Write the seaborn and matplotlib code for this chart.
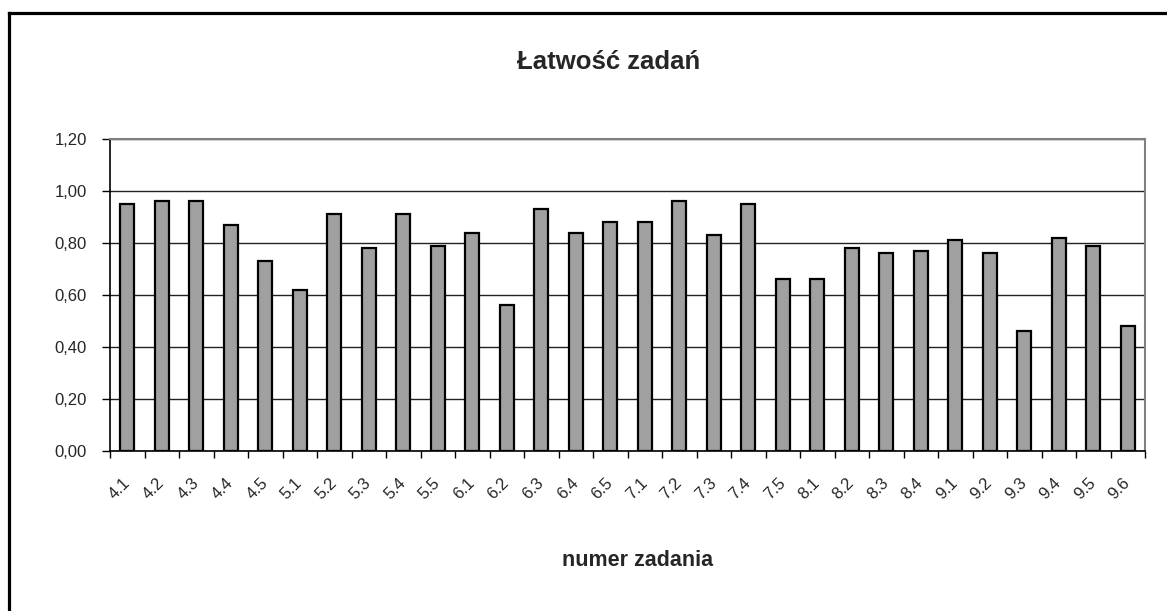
import matplotlib
matplotlib.use("Agg")
import matplotlib.pyplot as plt
import seaborn as sns
import pandas as pd
import numpy as np
from matplotlib.lines import Line2D
from matplotlib.ticker import FuncFormatter, FixedLocator

categories = ["4.1", "4.2", "4.3", "4.4", "4.5", "5.1", "5.2", "5.3", "5.4", "5.5",
              "6.1", "6.2", "6.3", "6.4", "6.5", "7.1", "7.2", "7.3", "7.4", "7.5",
              "8.1", "8.2", "8.3", "8.4", "9.1", "9.2", "9.3", "9.4", "9.5", "9.6"]
values = [0.95, 0.96, 0.96, 0.87, 0.73, 0.62, 0.91, 0.78, 0.91, 0.79,
          0.84, 0.56, 0.93, 0.84, 0.88, 0.88, 0.96, 0.83, 0.95, 0.66,
          0.66, 0.78, 0.76, 0.77, 0.81, 0.76, 0.46, 0.82, 0.79, 0.48]
y_ticks = [0.0, 0.2, 0.4, 0.6, 0.8, 1.0, 1.2]
title = "Łatwość zadań"
xlabel = "numer zadania"

sns.set_theme(style="white")
plt.rcParams['font.family'] = ['Liberation Sans', 'DejaVu Sans']

W, H = 1167, 611
fig = plt.figure(figsize=(W / 100, H / 100), dpi=100)
ax = fig.add_axes([110 / W, 1 - 451 / H, (1145 - 110) / W, (451 - 139) / H])

df = pd.DataFrame({"zadanie": categories, "latwosc": values})
sns.barplot(data=df, x="zadanie", y="latwosc", ax=ax, color="#a0a0a0",
            width=0.4, edgecolor="black", linewidth=1.6, saturation=1)

ax.set_ylim(0, 1.2)
ax.set_xlim(-0.5, len(categories) - 0.5)
ax.set_yticks(y_ticks)
ax.yaxis.set_major_formatter(FuncFormatter(lambda v, p: f"{v:.2f}".replace(".", ",")))
ax.grid(axis="y", color="#222222", linewidth=1.0)
ax.set_axisbelow(True)

# category boundary ticks
ax.xaxis.set_minor_locator(FixedLocator(np.arange(-0.5, len(categories), 1.0)))
ax.tick_params(axis="x", which="minor", length=5, width=1, color="black", direction="out", bottom=True)
ax.tick_params(axis="x", which="major", length=0, pad=21, labelsize=12)
ax.tick_params(axis="y", which="major", length=6, width=1, color="black", direction="out",
               left=True, pad=10.5, labelsize=12)
for lab in ax.get_xticklabels():
    lab.set_rotation(45)
    lab.set_ha("right")
    lab.set_va("center")
    lab.set_rotation_mode("anchor")

for side in ["left", "bottom"]:
    ax.spines[side].set_color("black")
    ax.spines[side].set_linewidth(1.2)
for side in ["top", "right"]:
    ax.spines[side].set_color("#808080")
    ax.spines[side].set_linewidth(1.5)
    ax.spines[side].set_visible(True)

ax.set_xlabel("")
ax.set_ylabel("")

fig.text(609 / W, 1 - 62 / H, title, ha="center", va="center", fontsize=18.5, fontweight="bold")
fig.text(638 / W, 1 - 560 / H, xlabel, ha="center", va="center", fontsize=15.5, fontweight="bold")

# outer frame (left and top edges)
fig.add_artist(Line2D([8.5 / W, 8.5 / W], [0, 1 - 12.5 / H], transform=fig.transFigure,
                      color="black", linewidth=2.3, solid_capstyle="projecting"))
fig.add_artist(Line2D([8.5 / W, 1.0], [1 - 12.5 / H, 1 - 12.5 / H], transform=fig.transFigure,
                      color="black", linewidth=2.3, solid_capstyle="projecting"))

fig.savefig("out.png", dpi=100)
